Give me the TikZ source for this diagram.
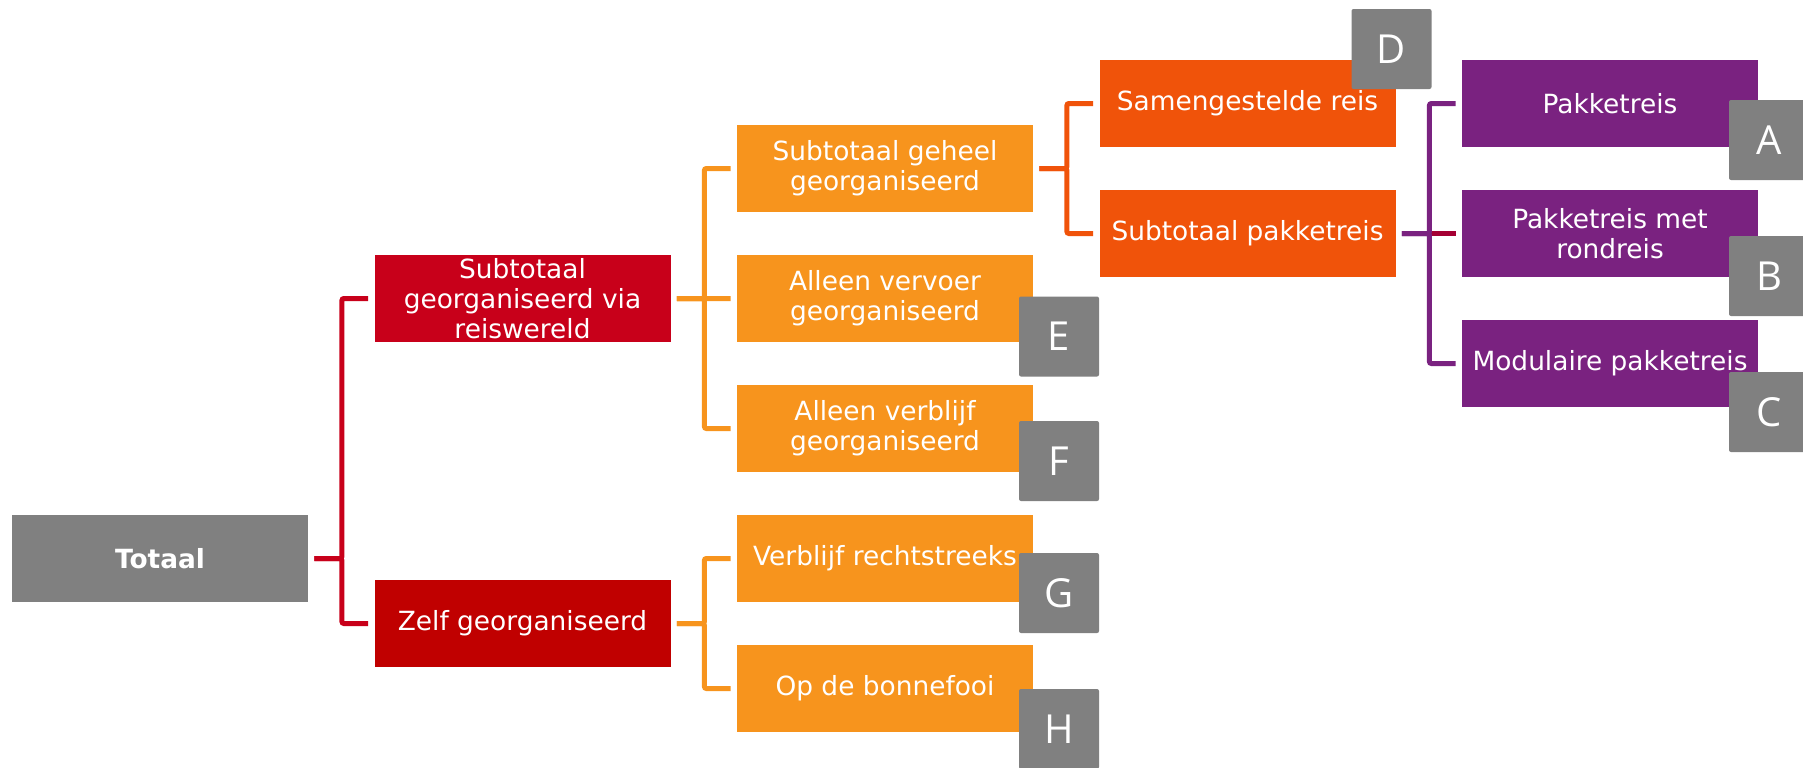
\documentclass[tikz,border=0pt]{standalone}
\usepackage{fontspec}
\setmainfont{DejaVu Sans}
\newfontfamily\letterfont{Open Sans}
\usepackage{tikz}
\definecolor{BoxGray}{HTML}{808080}
\definecolor{ViaRed}{HTML}{C8001A}
\definecolor{ZelfRed}{HTML}{C00000}
\definecolor{LightOrange}{HTML}{F7941D}
\definecolor{DarkOrange}{HTML}{F0530A}
\definecolor{ReisPurple}{HTML}{7A2280}
\definecolor{StubRed}{HTML}{A50034}

\begin{document}
\begin{tikzpicture}[x=0.5pt,y=-0.5pt,
	box/.style={rectangle,minimum width=148pt,minimum height=43.5pt,inner sep=0pt,
	align=center,text=white,font=\fontsize{13.2}{15}\selectfont},
	letter/.style={rectangle,rounded corners=1pt,fill=BoxGray,minimum size=40pt,
	inner sep=0pt,text=white,font=\letterfont\fontsize{20}{24}\selectfont},
	link/.style={line width=2.5pt,shorten <=3pt,shorten >=3pt,rounded corners=1pt}]
			\useasboundingbox (0,0) rectangle (1803,767);
			% columns
			\node [box,fill=BoxGray,font=\fontsize{13.2}{15}\selectfont\bfseries] (totaal) at (160,558.5) {Totaal};
			\node [box,fill=ViaRed] (via) at (522.5,298.5) {Subtotaal\\georganiseerd via\\reiswereld};
			\node [box,fill=ZelfRed] (zelf) at (522.5,623.5) {Zelf georganiseerd};
			\node [box,fill=LightOrange] (geheel) at (885,168.5) {Subtotaal geheel\\georganiseerd};
			\node [box,fill=LightOrange] (vervoer) at (885,298.5) {Alleen vervoer\\georganiseerd};
			\node [box,fill=LightOrange] (verblijf) at (885,428.5) {Alleen verblijf\\georganiseerd};
			\node [box,fill=LightOrange] (rechtstreeks) at (885,558.5) {Verblijf rechtstreeks};
			\node [box,fill=LightOrange] (bonnefooi) at (885,688.5) {Op de bonnefooi};
			\node [box,fill=DarkOrange] (samengesteld) at (1247.5,103.5) {Samengestelde reis};
			\node [box,fill=DarkOrange] (subpakket) at (1247.5,233.5) {Subtotaal pakketreis};
			\node [box,fill=ReisPurple] (pakket) at (1610,103.5) {Pakketreis};
			\node [box,fill=ReisPurple] (rondreis) at (1610,233.5) {Pakketreis met\\rondreis};
			\node [box,fill=ReisPurple] (modulair) at (1610,363.5) {Modulaire pakketreis};
			% letters
			\node [letter] (D) at (1391.5,49) {D};
			\node [letter] (A) at (1769,140) {A};
			\node [letter] (B) at (1769,276) {B};
			\node [letter] (C) at (1769,412) {C};
			\node [letter] (E) at (1059,336.5) {E};
			\node [letter] (F) at (1059,461) {F};
			\node [letter] (G) at (1059,593) {G};
			\node [letter] (H) at (1059,729) {H};
			% brackets
			\foreach \t in {via,zelf}
				\draw [link,ViaRed] (totaal.east) -- ++(33.5,0) |- (\t.west);
			\foreach \t in {geheel,vervoer,verblijf}
				\draw [link,LightOrange] (via.east) -- ++(33.5,0) |- (\t.west);
			\foreach \t in {rechtstreeks,bonnefooi}
				\draw [link,LightOrange] (zelf.east) -- ++(33.5,0) |- (\t.west);
			\foreach \t in {samengesteld,subpakket}
				\draw [link,DarkOrange] (geheel.east) -- ++(33.5,0) |- (\t.west);
			\draw [link,StubRed,shorten <=0pt] (subpakket.east) ++(33.5,0) -- (rondreis.west);
			\foreach \t in {pakket,modulair}
				\draw [link,ReisPurple] (subpakket.east) -- ++(33.5,0) |- (\t.west);
		\end{tikzpicture}
\end{document}
